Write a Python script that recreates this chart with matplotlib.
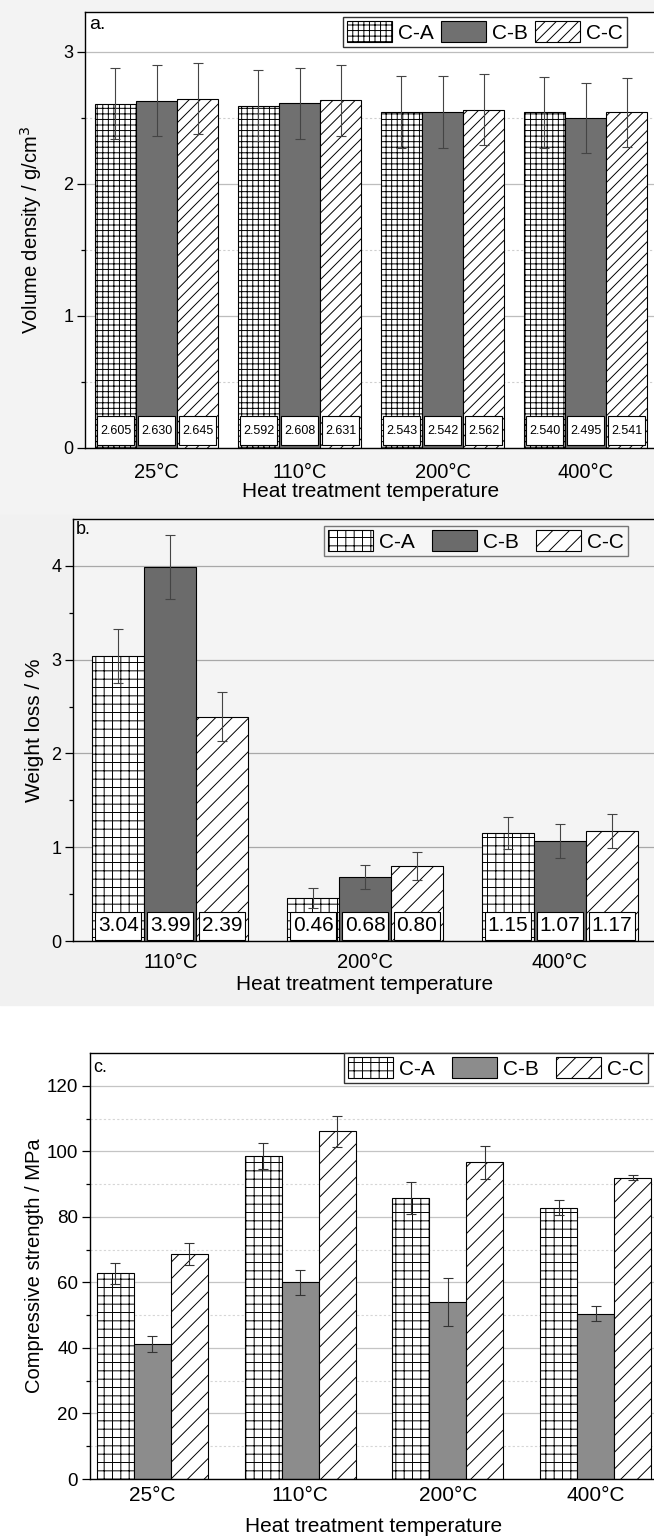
import matplotlib
matplotlib.use('Agg')
import matplotlib.pyplot as plt
from matplotlib.patches import Rectangle
import numpy as np

plt.rcParams['font.family'] = ['Liberation Sans', 'DejaVu Sans']
plt.rcParams['hatch.linewidth'] = 0.7

series = ['C-A', 'C-B', 'C-C']

# panel a: volume density
temps_a = ['25°C', '110°C', '200°C', '400°C']
dens_A = [2.605, 2.592, 2.543, 2.540]
dens_B = [2.630, 2.608, 2.542, 2.495]
dens_C = [2.645, 2.631, 2.562, 2.541]
dens_err_A = [0.27, 0.27, 0.27, 0.27]
dens_err_B = [0.27, 0.27, 0.27, 0.265]
dens_err_C = [0.27, 0.27, 0.27, 0.26]
dens_labels_A = ['2.605', '2.592', '2.543', '2.540']
dens_labels_B = ['2.630', '2.608', '2.542', '2.495']
dens_labels_C = ['2.645', '2.631', '2.562', '2.541']

# panel b: weight loss
temps_b = ['110°C', '200°C', '400°C']
loss_A = [3.04, 0.46, 1.15]
loss_B = [3.99, 0.68, 1.07]
loss_C = [2.39, 0.80, 1.17]
loss_err_A = [0.29, 0.11, 0.17]
loss_err_B = [0.34, 0.13, 0.18]
loss_err_C = [0.26, 0.15, 0.18]
loss_labels_A = ['3.04', '0.46', '1.15']
loss_labels_B = ['3.99', '0.68', '1.07']
loss_labels_C = ['2.39', '0.80', '1.17']

# panel c: compressive strength
temps_c = ['25°C', '110°C', '200°C', '400°C']
comp_A = [62.8, 98.6, 85.7, 82.8]
comp_B = [41.2, 60.0, 53.9, 50.5]
comp_C = [68.6, 106.1, 96.6, 92.0]
comp_err_A = [3.2, 4.0, 4.8, 2.3]
comp_err_B = [2.5, 3.7, 7.3, 2.4]
comp_err_C = [3.3, 4.7, 4.9, 0.9]

W, H = 654, 1536
fig = plt.figure(figsize=(W / 100, H / 100), dpi=100)
fig.patch.set_facecolor('white')

# light grey scan background behind panels a and b
def band(y0, y1, color):
    fig.patches.append(Rectangle((0, 1 - y1 / H), 1, (y1 - y0) / H,
                                 transform=fig.transFigure, color=color, zorder=-10))

band(0, 515, '#f3f3f3')
band(515, 1005, '#f1f1f1')


def px_axes(l, r, t, b):
    return fig.add_axes([l / W, 1 - b / H, (r - l) / W, (b - t) / H])


def style_axes(ax, face, grid_major, grid_minor, ysize):
    ax.set_facecolor(face)
    ax.set_axisbelow(True)
    for s in ['top', 'left', 'bottom']:
        ax.spines[s].set_linewidth(1.0)
    ax.spines['right'].set_visible(False)
    ax.tick_params(axis='y', which='major', direction='out', length=5.5, width=0.9,
                   labelsize=ysize, pad=3)
    ax.tick_params(axis='y', which='minor', direction='out', length=3, width=0.9)
    ax.tick_params(axis='x', which='both', length=0)
    ax.grid(axis='y', which='major', color=grid_major, lw=0.9)
    if grid_minor:
        ax.grid(axis='y', which='minor', color=grid_minor, lw=0.8, ls=(0, (2, 2)))


def draw_group(ax, x, vals, errs, bw, hatches, colors, ecol):
    for i in range(3):
        ax.bar(x + (i - 1) * bw, vals[i], bw, color=colors[i], hatch=hatches[i],
               edgecolor='black', linewidth=0.8, label=series[i], zorder=2)
        ax.errorbar(x + (i - 1) * bw, vals[i], yerr=errs[i], fmt='none', ecolor=ecol,
                    elinewidth=0.8, capsize=3.5, capthick=0.8, zorder=3)


def value_boxes(ax, x, labels, bw, y0, h, fs):
    for i in range(3):
        xs = x + (i - 1) * bw
        ax.bar(xs, h, bw * 0.88, bottom=y0, color='white', edgecolor='black',
               linewidth=0.8, zorder=4)
        for xi, t in zip(xs, labels[i]):
            ax.text(xi, y0 + h / 2, t, ha='center', va='center', fontsize=fs, zorder=5)


def add_legend(ax, anchor, edge, face, colsp, fs=15):
    ax.legend(loc='upper right', bbox_to_anchor=anchor, bbox_transform=fig.transFigure,
              ncol=3, fontsize=fs, frameon=True, fancybox=False, edgecolor=edge,
              facecolor=face, framealpha=1, borderaxespad=0, handlelength=2.15,
              handleheight=1.15, handletextpad=0.3, columnspacing=colsp, borderpad=0.2)


# ---------------- panel a ----------------
ax = px_axes(85, 657, 12, 448)
style_axes(ax, 'white', '#bdbdbd', '#cfcfcf', 13)
xa = np.arange(len(temps_a))
bw = 0.287
draw_group(ax, xa, [dens_A, dens_B, dens_C], [dens_err_A, dens_err_B, dens_err_C], bw,
           ['+++', None, '///'], ['white', '#707070', 'white'], '#444444')
value_boxes(ax, xa, [dens_labels_A, dens_labels_B, dens_labels_C], bw, 0.02, 0.22, 9)
ax.set_xlim(-0.5, 3.5)
ax.set_ylim(0, 3.3)
ax.set_yticks([0, 1, 2, 3])
ax.set_yticks([0.5, 1.5, 2.5], minor=True)
ax.set_xticks(xa)
ax.set_xticklabels(temps_a, fontsize=14.5)
ax.tick_params(axis='x', pad=11)
ax.set_xlabel('Heat treatment temperature', fontsize=15, labelpad=0)
ax.set_ylabel('Volume density / g/cm$^3$', fontsize=14.5)
ax.yaxis.set_label_coords(-0.072, 0.5)
ax.text(0.008, 0.99, 'a.', transform=ax.transAxes, ha='left', va='top', fontsize=14)
add_legend(ax, (627 / W, 1 - 17 / H), '#333333', 'white', 0.34)

# ---------------- panel b ----------------
ax = px_axes(73, 657, 519, 941)
style_axes(ax, '#f4f4f4', '#a8a8a8', None, 13)
xb = np.arange(len(temps_b))
bw = 0.267
draw_group(ax, xb, [loss_A, loss_B, loss_C], [loss_err_A, loss_err_B, loss_err_C], bw,
           ['++', None, '//'], ['white', '#6b6b6b', 'white'], '#444444')
value_boxes(ax, xb, [loss_labels_A, loss_labels_B, loss_labels_C], bw, 0.01, 0.30, 15)
ax.set_xlim(-0.5, 2.5)
ax.set_ylim(0, 4.5)
ax.set_yticks([0, 1, 2, 3, 4])
ax.set_yticks([0.5, 1.5, 2.5, 3.5], minor=True)
ax.set_xticks(xb)
ax.set_xticklabels(temps_b, fontsize=14.5)
ax.tick_params(axis='x', pad=9)
ax.set_xlabel('Heat treatment temperature', fontsize=15, labelpad=2)
ax.set_ylabel('Weight loss / %', fontsize=15)
ax.yaxis.set_label_coords(-0.05, 0.5)
ax.text(0.005, 0.995, 'b.', transform=ax.transAxes, ha='left', va='top', fontsize=13)
add_legend(ax, (628 / W, 1 - 526 / H), '#777777', '#f6f6f6', 0.82)

# ---------------- panel c ----------------
ax = px_axes(90, 658, 1053, 1479)
style_axes(ax, 'white', '#c4c4c4', '#d6d6d6', 13.5)
xc = np.arange(len(temps_c))
bw = 0.25
draw_group(ax, xc, [comp_A, comp_B, comp_C], [comp_err_A, comp_err_B, comp_err_C], bw,
           ['++', None, '//'], ['white', '#8c8c8c', 'white'], '#333333')
ax.set_xlim(-0.42, 3.42)
ax.set_ylim(0, 130)
ax.set_yticks(np.arange(0, 121, 20))
ax.set_yticks(np.arange(10, 121, 20), minor=True)
ax.set_xticks(xc)
ax.set_xticklabels(temps_c, fontsize=15)
ax.tick_params(axis='x', pad=5)
ax.set_xlabel('Heat treatment temperature', fontsize=15, labelpad=9)
ax.set_ylabel('Compressive strength / MPa', fontsize=14.5)
ax.yaxis.set_label_coords(-0.081, 0.5)
ax.text(0.005, 0.985, 'c.', transform=ax.transAxes, ha='left', va='top', fontsize=13)
add_legend(ax, (648 / W, 1 - 1053 / H), '#333333', 'white', 0.82)

fig.savefig('out.png', dpi=100, facecolor=fig.get_facecolor())
